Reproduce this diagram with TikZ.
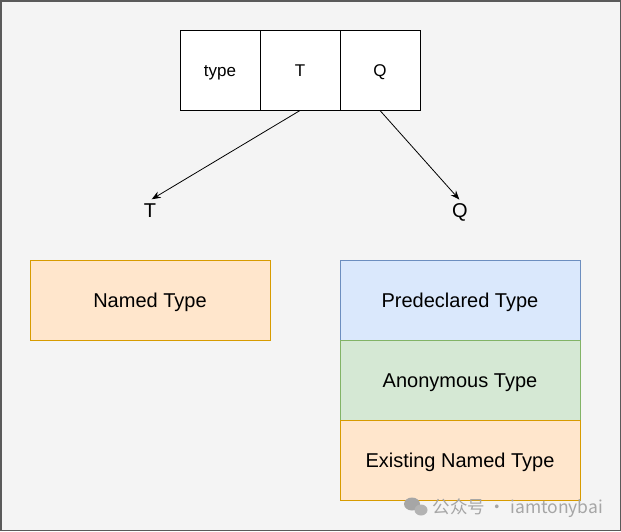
\documentclass[tikz,border=0pt]{standalone}
\usepackage{fontspec}
\setmainfont{Liberation Sans}
\newfontfamily\cjkfont{Noto Sans CJK SC}
\usetikzlibrary{positioning,arrows.meta}
\definecolor{pagebg}{HTML}{F4F4F4}
\definecolor{pageline}{HTML}{5A5A5A}
\definecolor{orangefill}{HTML}{FFE6CC}
\definecolor{orangeline}{HTML}{D79B00}
\definecolor{bluefill}{HTML}{DAE8FC}
\definecolor{blueline}{HTML}{6C8EBF}
\definecolor{greenfill}{HTML}{D5E8D4}
\definecolor{greenline}{HTML}{82B366}
\definecolor{markgray}{HTML}{A6A6A6}
\tikzset{
  cell/.style={rectangle,draw,fill=white,minimum width=80pt,minimum height=80pt,inner sep=0pt,
    text height=12.2pt,text depth=0pt,font=\fontsize{17}{20}\selectfont},
  kindbox/.style={rectangle,draw,minimum width=240pt,minimum height=80pt,inner sep=0pt,
    text height=14.4pt,text depth=0pt,font=\fontsize{20}{24}\selectfont},
}

\begin{document}
\begin{tikzpicture}[
  x=1pt,y=-1pt,line width=1pt,
  >={Stealth[length=9pt,width=7pt]},
  lab/.style={inner sep=2pt,text height=14.4pt,text depth=0pt,font=\fontsize{20}{24}\selectfont},
  named/.style={kindbox,fill=orangefill,draw=orangeline},
  predecl/.style={kindbox,fill=bluefill,draw=blueline},
  anon/.style={kindbox,fill=greenfill,draw=greenline},
  wmark/.style={text=markgray,inner sep=0pt,font=\cjkfont\fontsize{17.5}{20}\selectfont}
]

\useasboundingbox (0,0) rectangle (621,531);
\draw[fill=pagebg,draw=pageline,line width=1.5pt] (0.75,0.75) rectangle (620.25,530.25);

\node[cell] (cType) at (220,70) {type};
\node[cell] (cT) at (300,70) {T};
\node[cell] (cQ) at (380,70) {Q};

\node[lab] (lT) at (150,210) {T};
\node[lab] (lQ) at (460,210) {Q};

\node[named] (nNamed) at (150,300) {Named Type};

\node[predecl] (nPre) at (460,300) {Predeclared Type};
\node[anon] (nAnon) at (460,380) {Anonymous Type};
\node[named] (nExist) at (460,460) {Existing Named Type};

\path[->,line width=0.8pt]
(cT.south) edge[shorten >=2pt] (lT.north)
(cQ.south) edge[shorten >=1pt] (lQ.north);

% watermark
\fill[markgray] (412,504) ellipse (8pt and 6.5pt);
\fill[markgray!85!white] (421,510) ellipse (6.5pt and 5.5pt);
\node[wmark,anchor=west] (wm) at (432,508) {公众号 · iamtonybai};

\end{tikzpicture}
\end{document}
